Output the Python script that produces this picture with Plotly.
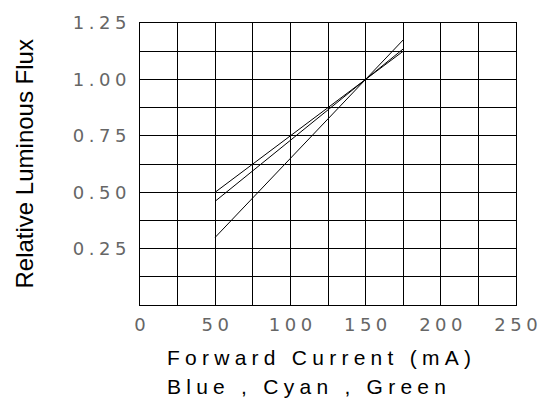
import plotly.graph_objects as go

# Forward current (mA) and relative luminous flux for each LED colour
current_ma = [50, 150, 175]
flux_blue = [0.30, 1.00, 1.175]
flux_cyan = [0.46, 1.00, 1.135]
flux_green = [0.50, 1.00, 1.125]

x_tick_vals = [0, 50, 100, 150, 200, 250]
x_tick_labels = ["0", "50", "100", "150", "200", "250"]
y_tick_vals = [0.25, 0.50, 0.75, 1.00, 1.25]
y_tick_labels = ["0.25", "0.50", "0.75", "1.00", "1.25"]

x_title = "Forward Current (mA)"
x_subtitle = "Blue , Cyan , Green"
y_title = "Relative Luminous Flux"

SP_TICK = "\u2005"   # four-per-em space, widens the tick digits
SP_TITLE = "\u2005"  # four-per-em space, letter spacing of the x title


def spaced(text, sep):
    # put a narrow gap between every character
    return sep.join(text)


fig = go.Figure()
for name, values in (("Blue", flux_blue), ("Cyan", flux_cyan), ("Green", flux_green)):
    fig.add_trace(go.Scatter(
        x=current_ma, y=values, mode="lines", name=name,
        line=dict(color="black", width=1),
        showlegend=False,
    ))

tick_font = dict(family="DejaVu Sans", size=18, color="#666666")
title_font = dict(family="Liberation Sans, Arial, sans-serif", size=21, color="black")

fig.update_layout(
    width=557, height=407,
    margin=dict(l=140, r=41, t=17, b=102),
    paper_bgcolor="white", plot_bgcolor="white",
    xaxis=dict(
        range=[0, 250],
        tickmode="array", tickvals=x_tick_vals,
        ticktext=[spaced(t, SP_TICK) for t in x_tick_labels],
        tickfont=tick_font,
        ticks="outside", ticklen=3, tickcolor="rgba(0,0,0,0)",
        showgrid=True, gridcolor="black", gridwidth=1,
        minor=dict(dtick=25, showgrid=True, gridcolor="black", gridwidth=1),
        showline=True, linecolor="black", linewidth=1, mirror=True,
        zeroline=False, fixedrange=True,
    ),
    yaxis=dict(
        range=[0, 1.25],
        tickmode="array", tickvals=y_tick_vals,
        ticktext=[spaced(t, SP_TICK) for t in y_tick_labels],
        tickfont=tick_font,
        ticks="outside", ticklen=9, tickcolor="rgba(0,0,0,0)",
        showgrid=True, gridcolor="black", gridwidth=1,
        minor=dict(dtick=0.125, showgrid=True, gridcolor="black", gridwidth=1),
        showline=True, linecolor="black", linewidth=1, mirror=True,
        zeroline=False, fixedrange=True,
    ),
    annotations=[
        dict(text=spaced(x_title, SP_TITLE), xref="paper", yref="paper",
             x=25 / 376, y=-54 / 288, xanchor="left", yanchor="middle",
             showarrow=False, font=title_font),
        dict(text=spaced(x_subtitle, SP_TITLE), xref="paper", yref="paper",
             x=25 / 376, y=-83 / 288, xanchor="left", yanchor="middle",
             showarrow=False, font=title_font),
        dict(text=y_title, xref="paper", yref="paper",
             x=-116.5 / 376, y=0.5, xanchor="center", yanchor="middle",
             textangle=-90, showarrow=False,
             font=dict(family="Liberation Sans, Arial, sans-serif", size=24, color="black")),
    ],
)

fig.write_html("out.html")
